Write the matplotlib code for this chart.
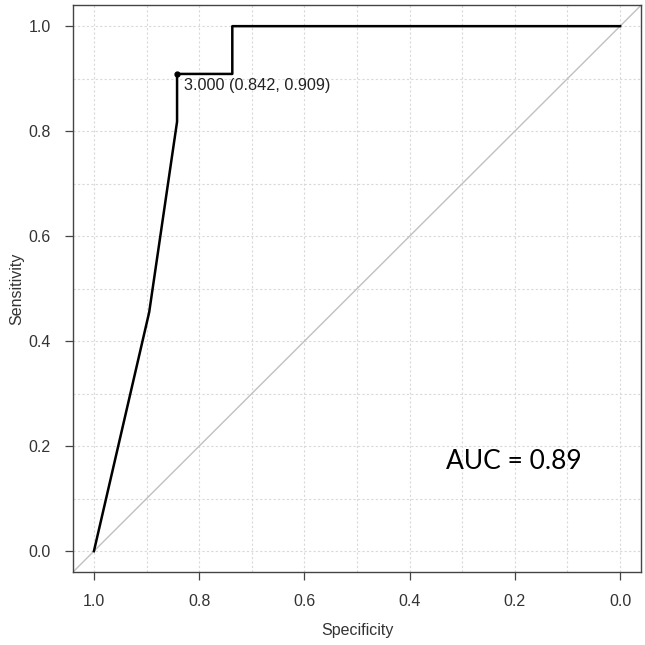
import numpy as np
import matplotlib
matplotlib.use("Agg")
import matplotlib.pyplot as plt

# ROC curve points (specificity, sensitivity)
specificity = [1.0, 0.895, 0.842, 0.842, 0.737, 0.737, 0.0]
sensitivity = [0.0, 0.455, 0.818, 0.909, 0.909, 1.0, 1.0]
best_threshold = 3.000
best_spec = 0.842
best_sens = 0.909
auc_value = 0.89
ticks = [1.0, 0.8, 0.6, 0.4, 0.2, 0.0]

plt.rcParams['font.family'] = ['Liberation Sans', 'DejaVu Sans']

fig = plt.figure(figsize=(6.45, 6.45), dpi=100)
ax = fig.add_axes([0.113, 0.113, 0.881, 0.879])

# grid every 0.1
for g in np.arange(0, 1.01, 0.1):
    ax.axvline(g, color='#d9d9d9', lw=0.8, ls=(0, (2, 2)), zorder=0)
    ax.axhline(g, color='#d9d9d9', lw=0.8, ls=(0, (2, 2)), zorder=0)

# chance diagonal
ax.axline((1, 0), (0, 1), color='#c0c0c0', lw=1.0, zorder=1)

ax.plot(specificity, sensitivity, color='black', lw=1.8, zorder=3)
ax.plot([best_spec], [best_sens], 'o', color='black', ms=3.5, zorder=4)
ax.annotate(f"{best_threshold:.3f} ({best_spec:.3f}, {best_sens:.3f})",
            xy=(best_spec, best_sens), xytext=(5, -3), textcoords='offset points',
            ha='left', va='top', fontsize=11.7, color='#222222')

ax.text(0.33, 0.17, f"AUC = {auc_value:.2f}", fontsize=19, family=['Lato', 'DejaVu Sans'],
        ha='left', va='center', color='black')

ax.set_xlim(1.04, -0.04)
ax.set_ylim(-0.04, 1.04)
ax.set_xticks(ticks)
ax.set_yticks(ticks)
ax.set_xticklabels([f"{t:.1f}" for t in ticks])
ax.set_yticklabels([f"{t:.1f}" for t in ticks])
ax.tick_params(direction='out', length=6, width=0.9, color='#444444',
               labelsize=11.5, labelcolor='#333333', pad=10)
for s in ax.spines.values():
    s.set_color('#444444')
    s.set_linewidth(1.0)

ax.set_xlabel("Specificity", fontsize=11.5, color='#333333', labelpad=10)
ax.set_ylabel("Sensitivity", fontsize=11.5, color='#333333', labelpad=3)

fig.savefig("out.png", dpi=100)
